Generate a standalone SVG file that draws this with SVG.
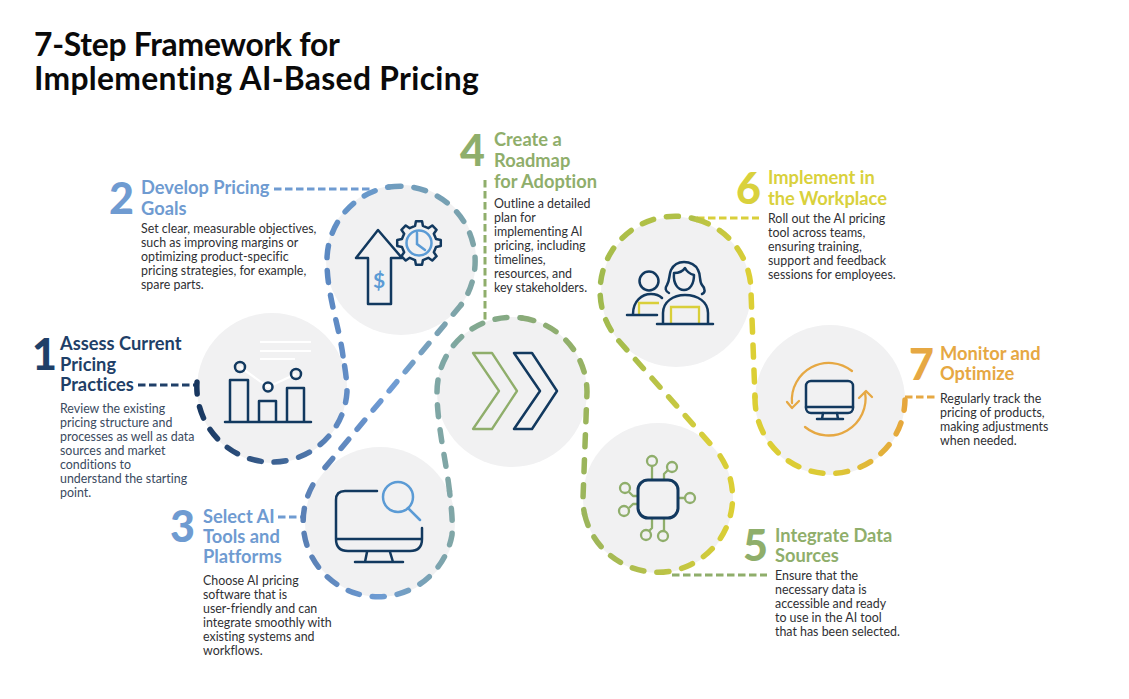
<svg xmlns="http://www.w3.org/2000/svg" width="1129" height="699" viewBox="0 0 1129 699">
<style>
text{font-family:"Lato","Noto Sans",sans-serif;font-variant-ligatures:none}
.title{font-size:31.8px;font-weight:700;fill:#0a0a0a}
.h{font-size:18.3px;font-weight:700;transform:translateY(0.7px)}
.n{font-size:43px;font-weight:900}
.b{font-size:12.4px;fill:#2f2f33;transform:translateY(0.7px)}
.b1{fill:#3a4a60}
.disc{fill:#f1f1f2}
.navy{fill:none;stroke:#12395f;stroke-width:2.5;stroke-linecap:round;stroke-linejoin:round}
.blue{fill:none;stroke:#5b9bd5;stroke-width:2.5;stroke-linecap:round}
.grn{fill:none;stroke:#8fae6b;stroke-width:2.3;stroke-linejoin:round}
.yel{fill:none;stroke:#d9cf3a;stroke-width:2.3}
.org{fill:none;stroke:#e6a843;stroke-width:2.3;stroke-linecap:round;stroke-linejoin:round}
.wh{fill:none;stroke:#fff;stroke-width:2.2}
.d{fill:none;stroke-width:5.5;stroke-linecap:round;stroke-dasharray:12 13}
.l{fill:none;stroke-width:3;stroke-dasharray:7.5 3.5}
.c1{fill:#1f3f68}.c2{fill:#6f9bd1}.c4{fill:#8fae6b}.c6{fill:#d9d13c}.c7{fill:#e6a843}
</style>
<defs>
<linearGradient id="ga" gradientUnits="userSpaceOnUse" x1="197" y1="400" x2="347" y2="400"><stop offset="0" stop-color="#17365f"/><stop offset="0.55" stop-color="#3f6596"/><stop offset="1" stop-color="#628dc6"/></linearGradient>
<linearGradient id="gb" gradientUnits="userSpaceOnUse" x1="343" y1="356" x2="389" y2="187"><stop offset="0" stop-color="#628dc6"/><stop offset="0.5" stop-color="#5a87c1"/><stop offset="1" stop-color="#6b9bcb"/></linearGradient>
<linearGradient id="gc" gradientUnits="userSpaceOnUse" x1="389" y1="187" x2="475" y2="260"><stop offset="0" stop-color="#6f9cbf"/><stop offset="1" stop-color="#7fa5a5"/></linearGradient>
<linearGradient id="gd" gradientUnits="userSpaceOnUse" x1="461" y1="305" x2="320" y2="474"><stop offset="0" stop-color="#7fa5a5"/><stop offset="0.5" stop-color="#6f9cd6"/><stop offset="1" stop-color="#5a80b5"/></linearGradient>
<linearGradient id="ge" gradientUnits="userSpaceOnUse" x1="305" y1="500" x2="453" y2="500"><stop offset="0" stop-color="#5a80b5"/><stop offset="0.5" stop-color="#6d9bd3"/><stop offset="1" stop-color="#80a6a6"/></linearGradient>
<linearGradient id="gf" gradientUnits="userSpaceOnUse" x1="449" y1="491" x2="522" y2="318"><stop offset="0" stop-color="#80a6a6"/><stop offset="0.7" stop-color="#7ea7a4"/><stop offset="1" stop-color="#86aa80"/></linearGradient>
<linearGradient id="gg" gradientUnits="userSpaceOnUse" x1="522" y1="318" x2="587" y2="400"><stop offset="0" stop-color="#8aab78"/><stop offset="1" stop-color="#9bb55c"/></linearGradient>
<linearGradient id="gh" gradientUnits="userSpaceOnUse" x1="583" y1="500" x2="733" y2="500"><stop offset="0" stop-color="#9bb55c"/><stop offset="0.5" stop-color="#b8c248"/><stop offset="1" stop-color="#dccf35"/></linearGradient>
<linearGradient id="gi" gradientUnits="userSpaceOnUse" x1="710" y1="443" x2="676" y2="217"><stop offset="0" stop-color="#dacf3b"/><stop offset="0.45" stop-color="#a8bd4c"/><stop offset="0.75" stop-color="#9eb950"/><stop offset="1" stop-color="#b0c047"/></linearGradient>
<linearGradient id="gj" gradientUnits="userSpaceOnUse" x1="697" y1="220" x2="750" y2="270"><stop offset="0" stop-color="#b9c345"/><stop offset="1" stop-color="#dccf35"/></linearGradient>
<linearGradient id="gk" gradientUnits="userSpaceOnUse" x1="755" y1="400" x2="905" y2="400"><stop offset="0" stop-color="#dccf35"/><stop offset="0.5" stop-color="#dcca35"/><stop offset="1" stop-color="#e6a63c"/></linearGradient>
</defs>
<rect width="1129" height="699" fill="#fff"/>
<g id="title"><text class="title" x="34" y="55.5" letter-spacing="-0.25">7-Step Framework for</text><text class="title" x="34" y="90" letter-spacing="0.32">Implementing AI-Based Pricing</text></g>
<g id="node-1">
<circle class="disc" cx="272" cy="388" r="75"/>
<path class="wh" d="M260 342H311M260 351H311M260 359H295M240 367L268 387L296 374"/>
<path class="navy" d="M225 422H311M230 422V380H248V422M259 422V401H276V422M287 422V388H304V422"/>
<circle class="navy" cx="240" cy="367" r="5"/><circle class="navy" cx="268" cy="387" r="4.5"/><circle class="navy" cx="296" cy="374" r="5"/>
<text class="n c1" x="32" y="370">1</text>
<text class="h c1"><tspan x="60" y="349">Assess Current</tspan><tspan x="60" y="370">Pricing</tspan><tspan x="60" y="390">Practices</tspan></text>
<text class="b b1"><tspan x="60" y="412">Review the existing</tspan><tspan x="60" y="426">pricing structure and</tspan><tspan x="60" y="440">processes as well as data</tspan><tspan x="60" y="454">sources and market</tspan><tspan x="60" y="468">conditions to</tspan><tspan x="60" y="482">understand the starting</tspan><tspan x="60" y="496">point.</tspan></text>
</g>
<g id="node-2">
<circle class="disc" cx="401" cy="260" r="75"/>
<polygon class="navy" transform="translate(419 243)" points="17.05,-3.94 21.79,-3.06 21.79,3.06 17.05,3.94 14.84,9.27 17.57,13.24 13.24,17.57 9.27,14.84 3.94,17.05 3.06,21.79 -3.06,21.79 -3.94,17.05 -9.27,14.84 -13.24,17.57 -17.57,13.24 -14.84,9.27 -17.05,3.94 -21.79,3.06 -21.79,-3.06 -17.05,-3.94 -14.84,-9.27 -17.57,-13.24 -13.24,-17.57 -9.27,-14.84 -3.94,-17.05 -3.06,-21.79 3.06,-21.79 3.94,-17.05 9.27,-14.84 13.24,-17.57 17.57,-13.24 14.84,-9.27"/>
<circle class="blue" cx="419" cy="243" r="12.5"/>
<path class="blue" d="M417 233V244L425 250"/>
<polygon class="navy" style="fill:#f1f1f2" points="378,230 402,258 391,258 391,304 368,304 368,258 356,258"/>
<text x="379" y="288" text-anchor="middle" style="font-size:21px;font-weight:700;fill:#5b9bd5">$</text>
<text class="n c2" x="109" y="214">2</text>
<text class="h c2"><tspan x="141" y="193">Develop Pricing</tspan><tspan x="141" y="214">Goals</tspan></text>
<text class="b"><tspan x="141" y="232">Set clear, measurable objectives,</tspan><tspan x="141" y="246">such as improving margins or</tspan><tspan x="141" y="260">optimizing product-specific</tspan><tspan x="141" y="274">pricing strategies, for example,</tspan><tspan x="141" y="288">spare parts.</tspan></text>
</g>
<g id="node-3">
<circle class="disc" cx="380" cy="522" r="75"/>
<path class="navy" d="M377 491H345Q336 491 336 500V539M336 539H422M336 539Q336 551 348 551H410Q422 551 422 539V528M367 552L365 562M390 552L393 562M355 562H403"/>
<circle class="blue" cx="398" cy="497" r="15"/><path class="blue" d="M408 508L420 520"/>
<text class="n c2" x="170" y="542">3</text>
<text class="h c2"><tspan x="203" y="522">Select AI</tspan><tspan x="203" y="542">Tools and</tspan><tspan x="203" y="562">Platforms</tspan></text>
<text class="b"><tspan x="203" y="584">Choose AI pricing</tspan><tspan x="203" y="598">software that is</tspan><tspan x="203" y="612">user-friendly and can</tspan><tspan x="203" y="626">integrate smoothly with</tspan><tspan x="203" y="640">existing systems and</tspan><tspan x="203" y="654">workflows.</tspan></text>
</g>
<g id="node-4">
<circle class="disc" cx="512" cy="392" r="75"/>
<polygon class="grn" points="473,353 492,353 517,391 492,429 473,429 499,391"/>
<polygon class="navy" points="514,353 532,353 557,391 532,429 514,429 540,391"/>
<text class="n c4" x="460" y="166">4</text>
<text class="h c4"><tspan x="494" y="145">Create a</tspan><tspan x="494" y="166">Roadmap</tspan><tspan x="494" y="187">for Adoption</tspan></text>
<text class="b"><tspan x="494" y="207">Outline a detailed</tspan><tspan x="494" y="221">plan for</tspan><tspan x="494" y="235">implementing AI</tspan><tspan x="494" y="249">pricing, including</tspan><tspan x="494" y="263">timelines,</tspan><tspan x="494" y="277">resources, and</tspan><tspan x="494" y="291">key stakeholders.</tspan></text>
</g>
<g id="node-5">
<circle class="disc" cx="658" cy="498" r="75"/>
<g class="grn"><circle cx="652" cy="461" r="5"/><circle cx="672" cy="467" r="5"/><circle cx="625" cy="488" r="5"/><circle cx="624" cy="511" r="5"/><circle cx="690" cy="498" r="5"/><circle cx="646" cy="535" r="5"/><circle cx="663" cy="536" r="5"/>
<path d="M652 466V480M664 479V474L668 470M629 492L633 496H638M629 508L633 504H638M678 498H685M652 518V528L649 531M664 518V531"/></g>
<rect class="navy" style="stroke-width:3" x="638" y="480" width="40" height="38" rx="10"/>
<text class="n c4" x="743" y="561">5</text>
<text class="h c4"><tspan x="775" y="541">Integrate Data</tspan><tspan x="775" y="561">Sources</tspan></text>
<text class="b"><tspan x="775" y="579">Ensure that the</tspan><tspan x="775" y="593">necessary data is</tspan><tspan x="775" y="607">accessible and ready</tspan><tspan x="775" y="621">to use in the AI tool</tspan><tspan x="775" y="635">that has been selected.</tspan></text>
</g>
<g id="node-6">
<circle class="disc" cx="676" cy="292" r="75"/>
<path class="yel" d="M639 315V303H659M671 324V307H699V324"/>
<circle class="navy" cx="649" cy="281" r="9.5"/>
<path class="navy" d="M633 314C633 301 642 294 651 294C656 294 660 296 662 298M627 315H657M657 324H713M663 324V313C663 302 673 295 685 295C698 295 708 302 708 313V324"/>
<path class="navy" d="M669 293C665 291 665 288 667 285C670 280 669 274 671 270C674 264 679 262 684 262C690 262 696 265 698 270C701 275 699 281 702 285C706 289 705 293 702 294"/>
<path class="navy" d="M674 273C679 273 683 271 685 268C687 272 690 274 694 275C694 284 690 290 684 290C678 290 673 284 674 273Z"/>
<text class="n c6" x="736" y="204">6</text>
<text class="h c6"><tspan x="768" y="183">Implement in</tspan><tspan x="768" y="204">the Workplace</tspan></text>
<text class="b"><tspan x="768" y="222">Roll out the AI pricing</tspan><tspan x="768" y="236">tool across teams,</tspan><tspan x="768" y="250">ensuring training,</tspan><tspan x="768" y="264">support and feedback</tspan><tspan x="768" y="278">sessions for employees.</tspan></text>
</g>
<g id="node-7">
<circle class="disc" cx="830" cy="400" r="75"/>
<path class="org" d="M852 371A37 37 0 0 0 792 403M787 402L792 408L799 401M805 427A37 37 0 0 0 865 392M859 398L866 391L872 397"/>
<rect class="navy" x="806" y="381" width="47" height="32" rx="5"/>
<path class="navy" d="M806 407H853M823 413L822 419M837 413L838 419M817 419H843"/>
<text class="n c7" x="909" y="380">7</text>
<text class="h c7"><tspan x="940" y="359">Monitor and</tspan><tspan x="940" y="379">Optimize</tspan></text>
<text class="b"><tspan x="940" y="402">Regularly track the</tspan><tspan x="940" y="416">pricing of products,</tspan><tspan x="940" y="430">making adjustments</tspan><tspan x="940" y="444">when needed.</tspan></text>
</g>
<g id="connectors">
<path class="l" stroke="#1f3f68" d="M138 385H197"/>
<path class="l" stroke="#6f9bd1" d="M274 189H370"/>
<path class="l" stroke="#6f9bd1" d="M278 517H303"/>
<path class="l" stroke="#8fae6b" d="M485 180V320"/>
<path class="l" stroke="#8fae6b" d="M672 575H767"/>
<path class="l" stroke="#d9cf3a" d="M697 218H759"/>
<path class="l" stroke="#e6a843" d="M905 397H936"/>
<path class="d" stroke="url(#ga)" d="M197 382A75 75 0 0 0 347 392C347 380 345 368 343 356"/>
<path class="d" stroke="url(#gb)" d="M343 356C339 325 327 295 327 262A74.5 74.5 0 0 1 389 187"/>
<path class="d" stroke="url(#gc)" d="M389 187A75 75 0 0 1 461 305"/>
<path class="d" stroke="url(#gd)" d="M461 305L318 476"/>
<path class="d" stroke="url(#ge)" d="M312.8 485A75 75 0 1 0 452 535C453 520 451 505 449.5 491"/>
<path class="d" stroke="url(#gf)" d="M449.5 491C446 460 437 425 437 392A75 75 0 0 1 522 318"/>
<path class="d" stroke="url(#gg)" d="M522 318A75 75 0 0 1 587 392L583 498A75 75 0 0 0 584.5 514"/>
<path class="d" stroke="url(#gh)" d="M584.5 514A75 75 0 1 0 715 449"/>
<path class="d" stroke="url(#gi)" d="M709.8 443.3L619 341A75 75 0 0 1 697 219.5"/>
<path class="d" stroke="url(#gj)" d="M697 219.5A75 75 0 0 1 751 292L755 397"/>
<path class="d" stroke="url(#gk)" d="M755 397A75 75 0 1 0 905 400"/>
</g>
</svg>
